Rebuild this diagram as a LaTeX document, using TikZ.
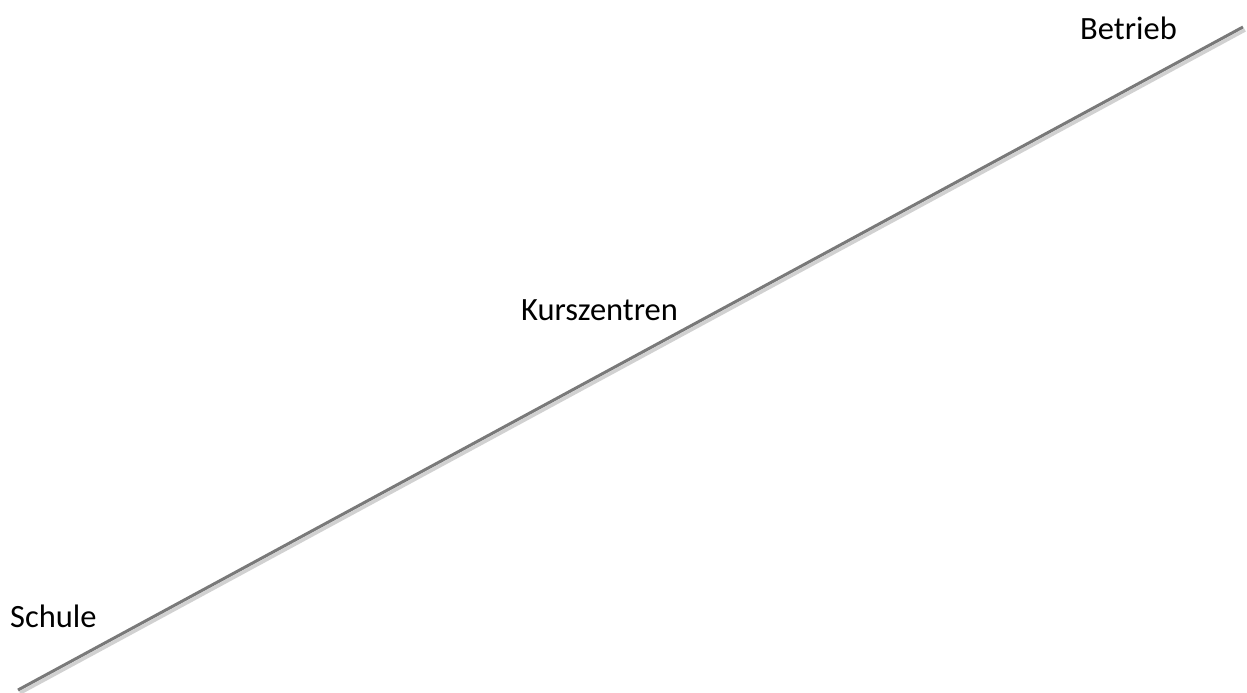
\documentclass[tikz,border=0pt]{standalone}
\usepackage{fontspec}
\setmainfont{Carlito}
\begin{document}
\begin{tikzpicture}[x=1pt,y=-1pt,
  lbl/.style={anchor=base west,inner sep=0pt,font=\fontsize{32.5}{36}\selectfont},
  axis/.style={draw=gray!95!black,line width=3pt},
  axisshadow/.style={draw=black!18,line width=3.5pt}]
\useasboundingbox[fill=white] (0,0) rectangle (1247,693);
\coordinate (s) at (18,690);
\coordinate (e) at (1243,27);
\coordinate (ss) at (20,693);
\coordinate (es) at (1245,30);
\draw[axisshadow] (ss) -- (es);
\draw[axis] (s) -- (e);
\node[lbl] (schule) at (10,627) {Schule};
\node[lbl] (kurs) at (521,320) {Kurszentren};
\node[lbl] (betrieb) at (1080,40) {Betrieb};
\end{tikzpicture}
\end{document}
